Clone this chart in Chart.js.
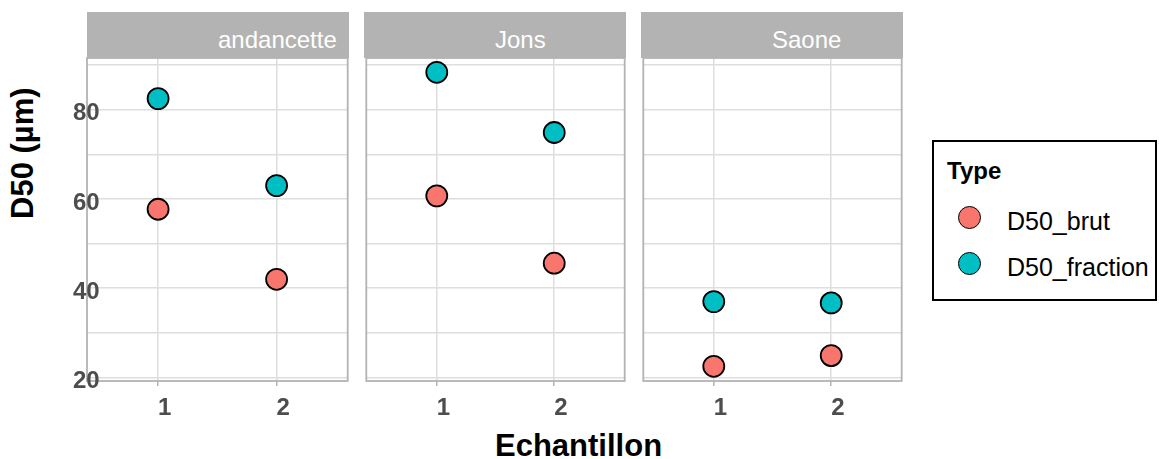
<!DOCTYPE html>
<html>
<head>
<meta charset="utf-8">
<script src="https://cdn.jsdelivr.net/npm/chart.js@4"></script>
<style>
  body { margin: 0; background: #fff; font-family: 'Liberation Sans', Arial, sans-serif; }
  #wrap { position: relative; width: 1159px; height: 459px; overflow: hidden; }
  canvas { position: absolute; }
  .strip { position: absolute; top: 12px; height: 46px; background: #b3b3b3; color: #fff;
           font-size: 24px; line-height: 36px; padding-top: 10px; box-sizing: border-box; white-space: nowrap; }
  .title { position: absolute; font-weight: bold; font-size: 31px; line-height: 31px; color: #000; white-space: nowrap; }
  #legend { position: absolute; left: 932px; top: 140px; width: 225px; height: 161px; border: 2px solid #000; box-sizing: border-box; }
  #legend .lt { position: absolute; left: 13px; top: 17px; font-weight: bold; font-size: 24px; line-height: 24px; }
  #legend .key { position: absolute; width: 23px; height: 23px; border-radius: 50%; border: 1.8px solid #000; box-sizing: border-box; }
  #legend .lab { position: absolute; left: 73px; font-size: 25px; line-height: 25px; white-space: nowrap; }
</style>
</head>
<body>
<div id="wrap">
  <div class="title" style="left:495px; top:430px">Echantillon</div>
  <div class="title" style="left:0; top:0; transform-origin:0 0; transform:translate(7px,219px) rotate(-90deg)">D50 (µm)</div>
  <div id="legend">
    <div class="lt">Type</div>
  </div>
</div>
<script>
// données
const sites = ['andancette', 'Jons', 'Saone']
const echantillons = [1, 2]
const typeNames = ['D50_brut', 'D50_fraction']
const typeColors = ['#F8766D', '#00BFC4']

const andancetteBrut = [57.7, 42.0]
const andancetteFraction = [82.5, 63.0]
const jonsBrut = [60.7, 45.6]
const jonsFraction = [88.4, 74.9]
const saoneBrut = [22.5, 24.9]
const saoneFraction = [37.0, 36.7]

const brutBySite = [andancetteBrut, jonsBrut, saoneBrut]
const fractionBySite = [andancetteFraction, jonsFraction, saoneFraction]

const yGridValues = [20, 30, 40, 50, 60, 70, 80, 90]
const yTickLabels = [20, 40, 60, 80]
const xTickValues = [1, 2]

// mise en page des panneaux
const PANEL_LEFT = [87, 364, 641]
const PANEL_W = 262
const PANEL_TOP = 58
const PANEL_H = 323
const CANVAS_TOP = 43
const CANVAS_H = 400

Chart.defaults.font.family = "'Liberation Sans', Arial, sans-serif"

const wrap = document.getElementById('wrap')

// bordure du panneau (sous les points, au-dessus de la grille)
const panelBorder = {
  id: 'panelBorder',
  beforeDatasetsDraw(chart) {
    const a = chart.chartArea
    const c = chart.ctx
    c.save()
    c.strokeStyle = '#b3b3b3'
    c.lineWidth = 1.8
    c.strokeRect(a.left, a.top, a.right - a.left, a.bottom - a.top)
    c.restore()
  }
}

sites.forEach((site, i) => {
  const first = i === 0
  const left = first ? 0 : PANEL_LEFT[i] - 10
  const right = PANEL_LEFT[i] + PANEL_W + 11

  const canvas = document.createElement('canvas')
  canvas.width = right - left
  canvas.height = CANVAS_H
  canvas.style.left = left + 'px'
  canvas.style.top = CANVAS_TOP + 'px'
  wrap.appendChild(canvas)

  // bandeau du site
  const strip = document.createElement('div')
  strip.className = 'strip'
  strip.style.left = PANEL_LEFT[i] + 'px'
  strip.style.width = PANEL_W + 'px'
  strip.style.paddingLeft = (PANEL_W / 2) + 'px'
  strip.textContent = site
  wrap.appendChild(strip)

  const series = [brutBySite[i], fractionBySite[i]]

  new Chart(canvas, {
    type: 'scatter',
    data: {
      datasets: series.map((vals, k) => ({
        label: typeNames[k],
        data: echantillons.map((e, j) => ({ x: e, y: vals[j] })),
        backgroundColor: typeColors[k],
        borderColor: '#000',
        borderWidth: 1.8,
        pointRadius: 10.5,
        pointHoverRadius: 10.5
      }))
    },
    options: {
      responsive: false,
      animation: false,
      devicePixelRatio: 1,
      layout: {
        padding: {
          top: PANEL_TOP - CANVAS_TOP,
          right: 11,
          bottom: CANVAS_H - (PANEL_TOP - CANVAS_TOP) - PANEL_H - 50,
          left: PANEL_LEFT[i] - left
        }
      },
      plugins: {
        legend: { display: false },
        tooltip: { enabled: false }
      },
      scales: {
        x: {
          type: 'linear',
          min: 0.4,
          max: 2.6,
          afterBuildTicks: s => { s.ticks = xTickValues.map(v => ({ value: v })) },
          afterFit: s => { s.height = 50 },
          border: { display: false },
          grid: {
            color: '#dedede',
            lineWidth: 1.5,
            drawTicks: true,
            tickLength: 5,
            tickColor: '#b3b3b3',
            tickWidth: 1.5
          },
          ticks: {
            align: 'start',
            padding: 8,
            color: '#4d4d4d',
            font: { size: 24, weight: 'bold' },
            maxRotation: 0,
            callback: v => String(v)
          }
        },
        y: {
          min: 19.2,
          max: 91.6,
          afterBuildTicks: s => { s.ticks = yGridValues.map(v => ({ value: v })) },
          afterFit: s => { s.width = 0 },
          border: { display: false },
          grid: {
            color: '#dedede',
            lineWidth: 1.5,
            drawTicks: false
          },
          ticks: {
            display: first,
            mirror: true,
            z: 1,
            padding: -14,
            labelOffset: 4,
            color: '#4d4d4d',
            font: { size: 24, weight: 'bold' },
            callback: v => yTickLabels.includes(v) ? String(v) : ''
          }
        }
      }
    },
    plugins: [panelBorder]
  })
})

// légende
const legend = document.getElementById('legend')
typeNames.forEach((name, k) => {
  const key = document.createElement('div')
  key.className = 'key'
  key.style.background = typeColors[k]
  key.style.left = (35 - 11.5) + 'px'
  key.style.top = (75 - 11.5 + k * 46) + 'px'
  legend.appendChild(key)
  const lab = document.createElement('div')
  lab.className = 'lab'
  lab.style.top = (67 + k * 45.5) + 'px'
  lab.textContent = name
  legend.appendChild(lab)
})
</script>
</body>
</html>
